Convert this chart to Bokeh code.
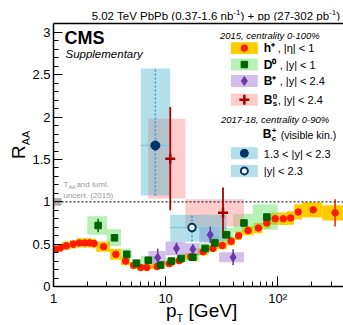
from bokeh.plotting import figure
from bokeh.models import Range1d, FixedTicker, Label, Span, LinearAxis, Div
from bokeh.layouts import column, row
from bokeh.embed import file_html
from bokeh.resources import INLINE

# ---------------- data ----------------
# charged hadrons h+, |eta|<1, 2015, 0-100%
h_edges = [1.0, 1.1, 1.2, 1.4, 1.6, 1.8, 2.0, 2.2, 2.4, 3.2, 4.0, 4.8, 5.6, 6.4, 7.2, 9.6, 12.0,
           14.4, 19.2, 24.0, 28.8, 35.2, 41.6, 48.0, 60.8, 73.6, 86.4, 103.6, 120.8, 140.0, 165.0,
           250.0, 400.0]
h_x = [1.05, 1.15, 1.3, 1.5, 1.7, 1.9, 2.1, 2.3, 2.8, 3.6, 4.4, 5.2, 6.0, 6.8, 8.4, 10.8, 13.2,
       16.8, 21.6, 26.4, 32.0, 38.4, 44.8, 54.4, 67.2, 80.0, 95.0, 112.2, 130.4, 152.5, 207.5, 325.0]
h_y = [0.44, 0.455, 0.48, 0.50, 0.515, 0.515, 0.515, 0.508, 0.47, 0.38, 0.30, 0.25, 0.225, 0.225,
       0.235, 0.27, 0.305, 0.35, 0.41, 0.45, 0.485, 0.535, 0.60, 0.66, 0.69, 0.75, 0.80, 0.80,
       0.81, 0.88, 0.905, 0.87]
h_stat = [0.004, 0.004, 0.004, 0.004, 0.004, 0.004, 0.004, 0.004, 0.004, 0.004, 0.004, 0.004,
          0.004, 0.004, 0.004, 0.004, 0.005, 0.005, 0.005, 0.006, 0.007, 0.008, 0.009, 0.01,
          0.012, 0.015, 0.018, 0.02, 0.025, 0.03, 0.035, 0.16]
h_syst = [0.045, 0.045, 0.05, 0.05, 0.055, 0.055, 0.055, 0.055, 0.06, 0.065, 0.05, 0.04, 0.035,
          0.035, 0.03, 0.03, 0.03, 0.035, 0.04, 0.04, 0.045, 0.05, 0.05, 0.055, 0.06, 0.065, 0.07,
          0.075, 0.08, 0.09, 0.09, 0.09]

# D0, |y|<1
d_edges = [2, 3, 4, 5, 6, 8, 10, 12.5, 15, 20, 25, 30, 40, 60, 100]
d_x = [2.5, 3.5, 4.5, 5.5, 7.0, 9.0, 11.25, 13.75, 17.5, 22.5, 27.5, 35.0, 50.0, 80.0]
d_y = [0.72, 0.575, 0.38, 0.275, 0.31, 0.253, 0.30, 0.33, 0.345, 0.45, 0.515, 0.61, 0.75, 0.82]
d_stat = [0.08, 0.04, 0.02, 0.015, 0.015, 0.015, 0.015, 0.015, 0.015, 0.02, 0.02, 0.025, 0.04, 0.04]
d_syst = [0.11, 0.10, 0.07, 0.05, 0.05, 0.04, 0.04, 0.04, 0.05, 0.06, 0.07, 0.08, 0.11, 0.15]

# B+, |y|<2.4
bp_edges = [7, 10, 15, 20, 30, 50]
bp_x = [8.5, 12.5, 17.5, 25.0, 40.0]
bp_y = [0.34, 0.45, 0.44, 0.61, 0.345]
bp_stat = [0.11, 0.07, 0.06, 0.10, 0.095]
bp_syst = [0.08, 0.08, 0.07, 0.09, 0.06]

# Bs0, |y|<2.4
bs_edges = [7, 15, 50]
bs_x = [11.0, 32.5]
bs_y = [1.51, 0.87]
bs_stat = [0.61, 0.30]
bs_syst = [0.47, 0.16]

# Bc+, 2017-18, 0-90%
bc_edges = [6, 11, 35]
bc_x = [8.1, 17.2]
bc_y = [1.665, 0.696]
bc_err_lo = [0.59, 0.165]
bc_err_hi = [0.91, 0.15]

x_ticks = [1, 10, 100]
x_tick_labels = ["1", "10", "10\u00b2"]
y_ticks = [0, 0.5, 1, 1.5, 2, 2.5, 3]
y_tick_labels = ["0", "0.5", "1", "1.5", "2", "2.5", "3"]

# ---------------- geometry helpers (page pixels -> data) ----------------
FL, FR, FT, FB = 52, 343, 23, 287
DEC = 112.5
YU = 85.0
XMAX = 10 ** ((FR - FL) / DEC)
YMAX = (FB - FT) / YU


def dx(px):
    return 10 ** ((px - FL) / DEC)


def dy(py):
    return (FB - py) / YU


FONT = "Liberation Sans"

# layout: title div / [ylabel div | figure] / xlabel div   (page origin at 0,0)
BT, BB = 3, 21
TD_H = FT - BT
YD_W = 29
FIG_X0 = YD_W
FIG_Y0 = TD_H
FIG_H = BT + (FB - FT) + BB
p = figure(width=343 - FIG_X0, height=FIG_H, x_axis_type="log",
           x_range=Range1d(1, XMAX), y_range=Range1d(0, YMAX),
           output_backend="svg", toolbar_location=None,
           min_border_left=FL - FIG_X0, min_border_right=0, min_border_top=BT, min_border_bottom=BB)
p.outline_line_color = None
p.xgrid.visible = False
p.ygrid.visible = False
p.background_fill_color = "white"
p.border_fill_color = "white"

for ax in (p.xaxis[0], p.yaxis[0]):
    ax.axis_line_color = "black"
    ax.axis_line_width = 1.5
    ax.major_tick_line_color = "black"
    ax.minor_tick_line_color = "black"
    ax.major_tick_out = 0
    ax.minor_tick_out = 0
    ax.major_label_text_font = FONT
    ax.major_label_text_font_size = "13px"
    ax.major_label_text_color = "black"

p.xaxis[0].ticker = FixedTicker(ticks=x_ticks,
                                minor_ticks=[2, 3, 4, 5, 6, 7, 8, 9, 20, 30, 40, 50, 60, 70, 80, 90, 200, 300])
p.xaxis[0].major_label_overrides = dict(zip(x_ticks, x_tick_labels))
p.xaxis[0].major_tick_in = 10
p.xaxis[0].minor_tick_in = 5
p.xaxis[0].major_label_standoff = 4

p.yaxis[0].ticker = FixedTicker(ticks=y_ticks,
                                minor_ticks=[round(0.1 * i, 1) for i in range(31)])
p.yaxis[0].major_label_overrides = dict(zip(y_ticks, y_tick_labels))
p.yaxis[0].major_tick_in = 9
p.yaxis[0].minor_tick_in = 5
p.yaxis[0].major_label_standoff = 3

top = LinearAxis(ticker=FixedTicker(ticks=[]), major_label_text_font_size="0px",
                 axis_line_width=1.5, axis_line_color="black", major_tick_in=0, major_tick_out=0,
                 minor_tick_in=0, minor_tick_out=0, major_label_standoff=0, axis_label_standoff=0)
p.add_layout(top, "above")

# ---------------- colours ----------------
C_H_BOX, C_H = "#ffcc00", "#ff1a00"
C_D_BOX, C_D = "#5fdf5f", "#006400"
C_BP_BOX, C_BP = "#9a6fd2", "#6a3aa8"
C_BS_BOX, C_BS = "#ff8f8f", "#aa0000"
C_BC_BOX, C_BC, C_BC_ERR = "#55b9cd", "#003366", "#3a9ad9"
ALPHA = 0.45

# ---------------- systematic boxes ----------------
p.quad(left=h_edges[:-1], right=h_edges[1:],
       bottom=[y - s for y, s in zip(h_y, h_syst)], top=[y + s for y, s in zip(h_y, h_syst)],
       fill_color=C_H_BOX, line_color=None)
p.quad(left=d_edges[:-1], right=d_edges[1:],
       bottom=[y - s for y, s in zip(d_y, d_syst)], top=[y + s for y, s in zip(d_y, d_syst)],
       fill_color=C_D_BOX, fill_alpha=ALPHA, line_color=None)
p.quad(left=bp_edges[:-1], right=bp_edges[1:],
       bottom=[y - s for y, s in zip(bp_y, bp_syst)], top=[y + s for y, s in zip(bp_y, bp_syst)],
       fill_color=C_BP_BOX, fill_alpha=ALPHA, line_color=None)
p.quad(left=bs_edges[:-1], right=bs_edges[1:],
       bottom=[y - s for y, s in zip(bs_y, bs_syst)], top=[y + s for y, s in zip(bs_y, bs_syst)],
       fill_color=C_BS_BOX, fill_alpha=ALPHA, line_color=None)
p.quad(left=bc_edges[:-1], right=bc_edges[1:],
       bottom=[y - s for y, s in zip(bc_y, bc_err_lo)], top=[y + s for y, s in zip(bc_y, bc_err_hi)],
       fill_color=C_BC_BOX, fill_alpha=ALPHA, line_color=None)
p.segment(x0=bc_edges[:-1], x1=bc_edges[1:], y0=bc_y, y1=bc_y, line_color="#86c9dc", line_width=1.5)

# T_AA + lumi box
p.quad(left=[1.0], right=[dx(60)], bottom=[0.955], top=[1.045], fill_color="#b0b0b0", line_color=None)
p.add_layout(Span(location=1, dimension="width", line_color="#333333", line_width=1.2,
                  line_dash="2 2"))

# ---------------- error bars and markers ----------------
p.segment(x0=h_x, x1=h_x, y0=[y - e for y, e in zip(h_y, h_stat)],
          y1=[y + e for y, e in zip(h_y, h_stat)], line_color=C_H, line_width=1.5)
p.segment(x0=d_x, x1=d_x, y0=[y - e for y, e in zip(d_y, d_stat)],
          y1=[y + e for y, e in zip(d_y, d_stat)], line_color=C_D, line_width=1.5)
p.segment(x0=bp_x, x1=bp_x, y0=[y - e for y, e in zip(bp_y, bp_stat)],
          y1=[y + e for y, e in zip(bp_y, bp_stat)], line_color=C_BP, line_width=1.5)
p.segment(x0=bs_x, x1=bs_x, y0=[y - e for y, e in zip(bs_y, bs_stat)],
          y1=[y + e for y, e in zip(bs_y, bs_stat)], line_color=C_BS, line_width=1.8)
p.segment(x0=bc_x, x1=bc_x, y0=[y - e for y, e in zip(bc_y, bc_err_lo)],
          y1=[y + e for y, e in zip(bc_y, bc_err_hi)], line_color=C_BC_ERR, line_width=1.5,
          line_dash="2 2")

p.scatter(h_x, h_y, marker="circle", size=6.5, fill_color=C_H, line_color=C_H)
p.scatter(d_x, d_y, marker="square", size=6.5, fill_color=C_D, line_color=C_D)
p.scatter(bp_x, bp_y, marker="diamond", size=9, fill_color=C_BP, line_color=C_BP)
p.scatter(bs_x, bs_y, marker="cross", size=10, line_color=C_BS, line_width=2.5)
p.scatter(bc_x[:1], bc_y[:1], marker="circle", size=9, fill_color=C_BC, line_color=C_BC)
p.scatter(bc_x[1:], bc_y[1:], marker="circle", size=7.5, fill_color="white", line_color=C_BC,
          line_width=2)

# ---------------- legend (drawn by hand) ----------------
LX0, LX1, LXM = dx(230), dx(257), dx(243.5)
leg_rows = [(47.7, C_H_BOX, 1.0), (64.2, C_D_BOX, ALPHA), (80.7, C_BP_BOX, ALPHA), (99.5, C_BS_BOX, ALPHA),
            (153.3, C_BC_BOX, ALPHA), (171.0, C_BC_BOX, ALPHA)]
for py, col, al in leg_rows:
    p.quad(left=[LX0], right=[LX1], bottom=[dy(py + 6)], top=[dy(py - 6)],
           fill_color=col, fill_alpha=al, line_color=None)
p.scatter([LXM], [dy(47.7)], marker="circle", size=6.5, fill_color=C_H, line_color=C_H)
p.scatter([LXM], [dy(64.2)], marker="square", size=6.5, fill_color=C_D, line_color=C_D)
p.scatter([LXM], [dy(80.7)], marker="diamond", size=9, fill_color=C_BP, line_color=C_BP)
p.scatter([LXM], [dy(99.5)], marker="cross", size=10, line_color=C_BS, line_width=2.5)
p.scatter([LXM], [dy(153.3)], marker="circle", size=8, fill_color=C_BC, line_color=C_BC)
p.scatter([LXM], [dy(171.0)], marker="circle", size=7, fill_color="white", line_color=C_BC, line_width=2)


def lab(px, py, text, size, style="normal", align="left", base="middle", color="black", angle=0):
    p.add_layout(Label(x=dx(px), y=dy(py), text=text, text_font=FONT, text_font_size=size,
                       text_font_style=style, text_align=align, text_baseline=base,
                       text_color=color, angle=angle))


lab(63, 37.5, "CMS", "18px", style="bold")
lab(64, 54, "Supplementary", "11.5px", style="italic")
lab(62, 185, "T", "8px", color="#9a9a9a")
lab(67, 187.5, "AA", "5.5px", color="#9a9a9a")
lab(75, 185, "and lumi.", "8px", color="#9a9a9a")
lab(62, 195.5, "uncert. (2015)", "8px", color="#9a9a9a")

lab(219, 35, "2015, centrality 0-100%", "9.5px", style="italic")
lab(263, 48, "h\u207a", "12px", style="bold")
lab(277, 48, ", |\u03b7| < 1", "11px")
lab(263, 64.5, "D\u2070", "12px", style="bold")
lab(279, 64.5, ", |y| < 1", "11px")
lab(263, 81, "B\u207a", "12px", style="bold")
lab(279, 81, ", |y| < 2.4", "11px")
lab(263, 99.5, "B", "12px", style="bold")
lab(272, 96, "0", "8px", style="bold")
lab(272, 103.5, "s", "8px", style="bold")
lab(277, 99.5, ", |y| < 2.4", "11px")
lab(220, 119.5, "2017-18, centrality 0-90%", "9.5px", style="italic")
lab(262, 134, "B", "12px", style="bold")
lab(271, 130.5, "+", "8px", style="bold")
lab(271, 138.5, "c", "8px", style="bold")
lab(280, 134.5, "(visible kin.)", "10.5px")
lab(263, 153.5, "1.3 < |y| < 2.3", "11px")
lab(263, 171.5, "|y| < 2.3", "11px")

# ---------------- texts outside the frame (HTML divs) ----------------
TITLE_HTML = ("5.02 TeV PbPb (0.37-1.6 nb<sup style='font-size:8px;line-height:0'>-1</sup>) + pp "
              "(27-302 pb<sup style='font-size:8px;line-height:0'>-1</sup>)")
title_div = Div(width=343, height=TD_H, margin=0,
                text=("<div style=\"position:relative;top:8px;width:340px;text-align:right;"
                      "font-family:'Liberation Sans';font-size:11.5px;line-height:14px;"
                      "white-space:nowrap;color:black\">" + TITLE_HTML + "</div>"))

R_START_Y, R_BASE_X = 159, 26
ylab_div = Div(width=YD_W, height=FIG_H, margin=0,
               text=("<div style=\"position:relative;left:%.1fpx;top:%.1fpx;transform-origin:0 0;"
                     "transform:rotate(-90deg);font-family:'Liberation Sans';font-size:19px;"
                     "line-height:20px;white-space:nowrap;color:black;width:60px\">"
                     "R<sub style='font-size:11px;line-height:0'>AA</sub></div>")
               % (R_BASE_X - 16.6, R_START_Y - FIG_Y0))

X_LAB_Y0 = FIG_Y0 + FIG_H
P_START_X, P_BASE_Y = 166, 318
xlab_div = Div(width=343, height=325 - X_LAB_Y0, margin=0,
               text=("<div style=\"position:relative;left:%.1fpx;top:%.1fpx;"
                     "font-family:'Liberation Sans';font-size:19px;line-height:20px;"
                     "white-space:nowrap;color:black\">"
                     "p<sub style='font-size:11px;line-height:0'>T</sub> [GeV]</div>")
               % (P_START_X, P_BASE_Y - 16.6 - X_LAB_Y0))

layout = column(title_div, row(ylab_div, p, spacing=0), xlab_div, spacing=0)

open("out.html", "w").write(file_html(layout, INLINE))
